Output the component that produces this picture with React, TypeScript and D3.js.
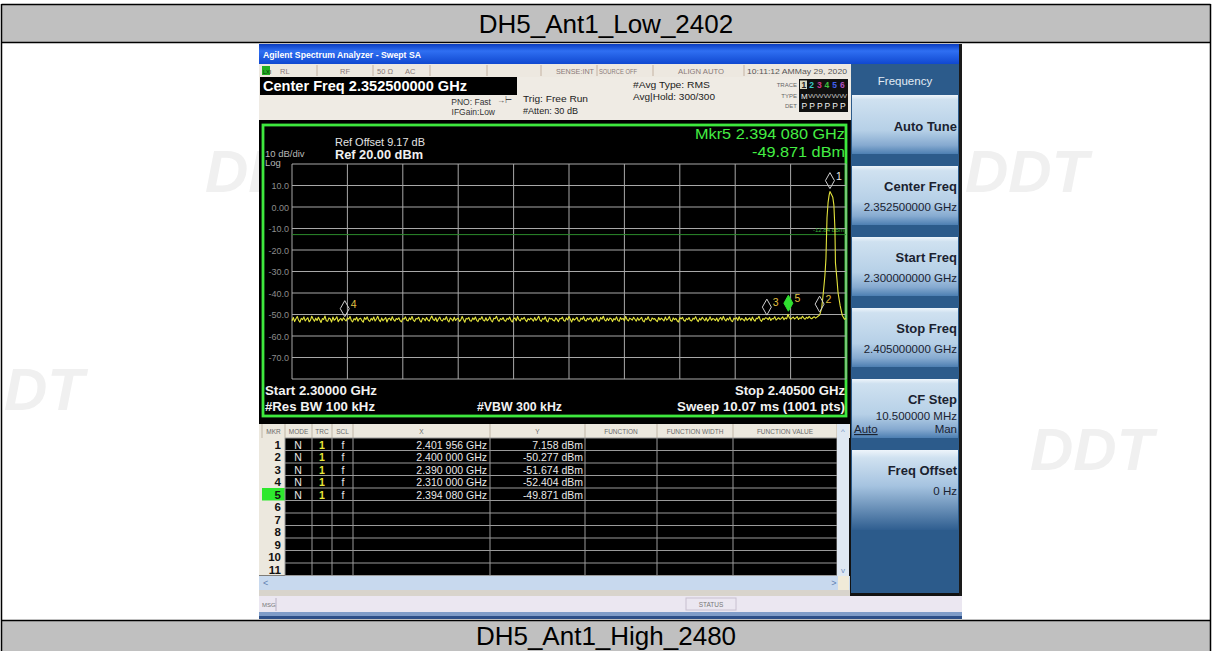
import * as d3 from 'd3';
import React from 'react';

const F = 'Liberation Sans, Arial, Helvetica, sans-serif';

// sweep settings
const startGHz = 2.3;
const stopGHz = 2.405;
const refLevel = 20;
const displayLine = -12.84;

const yTickValues = [10, 0, -10, -20, -30, -40, -50, -60, -70];
const yTickLabels = ['10.0', '0.00', '-10.0', '-20.0', '-30.0', '-40.0', '-50.0', '-60.0', '-70.0'];

// noise floor, read every 0.25 MHz from 2.30000 to 2.39975 GHz
const noiseStep = 0.00025;
const noiseLevels = [
  -52.9, -51.4, -53.3, -52.0, -50.9, -52.7, -53.6, -51.8, -52.4, -51.1, -53.0, -52.2, -51.5, -53.4, -52.6, -50.8, -52.1, -53.1, -51.7, -52.8,
  -51.3, -52.5, -53.7, -51.9, -52.3, -50.7, -52.9, -53.2, -51.6, -52.0, -53.5, -51.2, -52.7, -52.1, -51.0, -53.3, -52.4, -51.8, -52.9, -51.5,
  -52.4, -53.0, -51.6, -52.2, -50.9, -52.8, -53.4, -51.9, -52.5, -51.3, -53.1, -52.0, -51.7, -52.9, -53.6, -51.4, -52.3, -51.1, -52.7, -53.2,
  -51.8, -52.6, -51.2, -53.0, -52.1, -50.8, -52.5, -53.3, -51.6, -52.9, -52.2, -51.4, -53.5, -52.0, -51.7, -52.8, -51.0, -52.4, -53.1, -51.9,
  -52.3, -51.5, -52.9, -53.4, -51.8, -52.2, -51.1, -52.7, -53.0, -51.6, -52.4, -50.9, -52.6, -53.2, -51.9, -52.1, -51.3, -52.8, -53.5, -51.7,
  -52.0, -52.9, -51.4, -52.5, -53.1, -51.8, -50.7, -52.3, -52.8, -51.5, -53.3, -52.1, -51.2, -52.6, -53.0, -51.9, -52.4, -51.0, -52.7, -53.4,
  -51.6, -52.2, -53.0, -51.3, -52.8, -52.0, -51.7, -53.2, -52.5, -50.9, -52.3, -53.6, -51.8, -52.1, -51.4, -52.9, -53.1, -51.6, -52.4, -51.2,
  -52.7, -53.3, -51.9, -52.2, -51.0, -52.6, -53.0, -51.5, -52.9, -52.3, -51.1, -52.8, -53.4, -51.7, -52.0, -50.8, -52.5, -53.2, -51.9, -52.4,
  -51.4, -52.8, -53.1, -51.8, -52.3, -51.2, -52.7, -53.5, -52.0, -51.6, -52.9, -50.9, -52.4, -53.0, -51.7, -52.2, -51.3, -52.6, -53.3, -51.9,
  -52.5, -51.7, -52.2, -53.1, -51.4, -52.8, -52.0, -50.8, -52.6, -53.2, -51.8, -52.3, -51.1, -52.9, -53.4, -51.6, -52.1, -51.9, -52.7, -53.0,
  -51.5, -52.4, -53.3, -51.9, -52.0, -51.2, -52.8, -53.1, -51.6, -52.5, -50.9, -52.2, -53.5, -51.8, -52.6, -52.0, -51.3, -52.9, -53.2, -51.7,
  -52.3, -51.0, -52.7, -53.0, -51.8, -52.4, -51.5, -52.1, -53.4, -51.9, -52.6, -51.2, -52.9, -53.1, -51.4, -52.2, -50.8, -52.5, -53.0, -51.7,
  -52.8, -51.6, -52.0, -53.3, -51.9, -52.5, -51.1, -52.7, -53.2, -51.4, -52.3, -51.8, -52.9, -50.9, -52.4, -53.0, -51.7, -52.1, -52.6, -51.3,
  -52.2, -53.1, -51.5, -52.7, -52.0, -51.3, -52.9, -53.4, -51.8, -52.4, -51.0, -52.6, -53.0, -51.6, -52.2, -51.9, -52.8, -53.3, -51.4, -52.5,
  -51.7, -52.3, -53.0, -51.2, -52.6, -52.1, -50.9, -52.8, -53.2, -51.6, -52.4, -51.8, -52.9, -53.5, -51.5, -52.0, -51.3, -52.7, -53.1, -51.9,
  -52.4, -51.4, -52.8, -53.0, -51.7, -52.2, -51.0, -52.5, -53.3, -51.8, -52.6, -51.3, -52.1, -52.9, -51.5, -53.1, -52.3, -51.1, -52.7, -51.9,
  -52.1, -52.8, -51.6, -53.2, -52.0, -51.4, -52.6, -50.9, -52.3, -53.0, -51.8, -52.5, -51.2, -52.9, -53.3, -51.7, -52.2, -51.5, -52.8, -51.0,
  -52.6, -51.8, -52.3, -53.0, -51.4, -52.7, -52.1, -51.6, -52.9, -51.2, -52.4, -53.1, -51.7, -52.0, -50.8, -52.5, -53.2, -51.9, -52.3, -51.5,
  -51.7, -52.4, -51.3, -52.8, -51.9, -52.1, -51.0, -52.6, -52.0, -51.5, -52.3, -51.8, -51.1, -52.4, -51.6, -52.0, -49.9, -51.4, -52.2, -51.7,
  -51.2, -52.1, -51.6, -51.0, -52.3, -51.5, -51.9, -50.8, -51.7, -52.2, -51.3, -51.8, -50.9, -51.6, -52.0, -51.4, -51.1, -51.7, -51.2, -50.7,
];

// carrier around 2.402 GHz
const peakFreqs = [2.4, 2.4004, 2.4007, 2.401, 2.4012, 2.4014, 2.4016, 2.4018, 2.401956, 2.4022, 2.4025, 2.4027, 2.4029, 2.403, 2.4033, 2.4035, 2.4039, 2.4043, 2.4047, 2.405];
const peakLevels = [-50.3, -47.0, -40.0, -32.0, -24.0, -5.0, 2.0, 5.5, 7.16, 6.0, 4.5, 1.0, -10.0, -26.0, -34.0, -40.0, -46.0, -50.5, -52.2, -51.8];

const markerNums = ['1', '2', '3', '4', '5'];
const markerFreqs = [2.401956, 2.4, 2.39, 2.31, 2.39408];
const markerLevels = [7.158, -50.277, -51.674, -52.404, -49.871];
const markerXText = ['2.401 956 GHz', '2.400 000 GHz', '2.390 000 GHz', '2.310 000 GHz', '2.394 080 GHz'];
const markerYText = ['7.158 dBm', '-50.277 dBm', '-51.674 dBm', '-52.404 dBm', '-49.871 dBm'];

const tableHeads = ['MKR', 'MODE', 'TRC', 'SCL', 'X', 'Y', 'FUNCTION', 'FUNCTION WIDTH', 'FUNCTION VALUE'];
const colEdges = [262, 285, 312, 332, 353, 490, 585, 657, 733, 837];

const softKeyTitles = ['Auto Tune', 'Center Freq', 'Start Freq', 'Stop Freq', 'CF Step', 'Freq Offset'];
const softKeyValues = ['', '2.352500000 GHz', '2.300000000 GHz', '2.405000000 GHz', '10.500000 MHz', '0 Hz'];

const App = () => {
  const x = d3.scaleLinear().domain([startGHz, stopGHz]).range([292, 846]);
  const y = d3.scaleLinear().domain([refLevel - 100, refLevel]).range([379, 164]);

  const trace: [number, number][] = [
    ...noiseLevels.map((v, i) => [startGHz + i * noiseStep, v] as [number, number]),
    ...peakFreqs.map((f, i) => [f, peakLevels[i]] as [number, number]),
  ];
  const line = d3.line<[number, number]>().x((d) => x(d[0])).y((d) => y(d[1]));

  const vGrid = d3.range(11).map((i) => startGHz + (i * (stopGHz - startGHz)) / 10);
  const hGrid = d3.range(11).map((i) => refLevel - i * 10);

  const rowTop = (i: number) => 438 + i * 12.5;

  return (
    <svg width={1212} height={651} style={{ position: 'absolute', left: 0, top: 0 }} fontFamily={F}>
      <defs>
        <linearGradient id="tb" x1="0" y1="0" x2="0" y2="1">
          <stop offset="0%" stopColor="#0a3cc0" />
          <stop offset="35%" stopColor="#2f6ff2" />
          <stop offset="100%" stopColor="#1048d0" />
        </linearGradient>
        <linearGradient id="btn" x1="0" y1="0" x2="0" y2="1">
          <stop offset="0%" stopColor="#eef5fb" />
          <stop offset="8%" stopColor="#cfe1f0" />
          <stop offset="60%" stopColor="#b6d0e7" />
          <stop offset="85%" stopColor="#86aad0" />
          <stop offset="100%" stopColor="#4d7fb2" />
        </linearGradient>
        <linearGradient id="lastBtn" x1="0" y1="0" x2="0" y2="1">
          <stop offset="0%" stopColor="#eef5fb" />
          <stop offset="10%" stopColor="#cfe1f0" />
          <stop offset="45%" stopColor="#a5c3e0" />
          <stop offset="100%" stopColor="#2f5e90" />
        </linearGradient>
      </defs>

      <rect x={0} y={0} width={1212} height={651} fill="#ffffff" />

      {/* faint watermarks */}
      <g fill="#f0f0f0" fontWeight="bold" fontStyle="italic" fontSize={60}>
        <text x={205} y={192}>DDT</text>
        <text x={965} y={192}>DDT</text>
        <text x={4} y={410}>DT</text>
        <text x={1030} y={470}>DDT</text>
      </g>

      {/* outer table */}
      <rect x={2} y={4.5} width={1208} height={37.5} fill="#c0c0c0" />
      <rect x={2} y={621} width={1208} height={30} fill="#c0c0c0" />
      <g stroke="#000" strokeWidth={1.5}>
        <line x1={1.5} x2={1210.5} y1={4.5} y2={4.5} />
        <line x1={1.5} x2={1210.5} y1={42.5} y2={42.5} />
        <line x1={1.5} x2={1210.5} y1={620.5} y2={620.5} />
        <line x1={1.5} x2={1.5} y1={4} y2={651} />
        <line x1={1210.5} x2={1210.5} y1={4} y2={651} />
      </g>
      <text x={606} y={33} fontSize={26} textAnchor="middle" fill="#000">DH5_Ant1_Low_2402</text>
      <text x={606} y={645} fontSize={26} textAnchor="middle" fill="#000">DH5_Ant1_High_2480</text>

      {/* analyzer screenshot */}
      <rect x={259} y={44} width={703} height={575} fill="#121212" />
      <rect x={259} y={44} width={703} height={20} fill="url(#tb)" />
      <text x={263} y={58} fontSize={9} fontWeight="bold" fill="#ffffff" textLength={158} lengthAdjust="spacingAndGlyphs">
        Agilent Spectrum Analyzer - Swept SA
      </text>

      {/* status row */}
      <rect x={259} y={64} width={592} height={13} fill="#ede8e0" />
      <rect x={262} y={66} width={8} height={9} fill="#22b022" />
      <text x={263} y={73.5} fontSize={5.5} fill="#0a300a">LXI</text>
      <g stroke="#c4b2a2" strokeWidth={1}>
        {[317, 373, 430, 487, 541, 597, 653, 744].map((sx) => (
          <line key={sx} x1={sx} x2={sx} y1={65} y2={76} />
        ))}
      </g>
      <g fontSize={7.5} fill="#8a7a78">
        <text x={280} y={74}>RL</text>
        <text x={340} y={74}>RF</text>
        <text x={377} y={74}>50 Ω</text>
        <text x={405} y={74}>AC</text>
        <text x={556} y={74} textLength={38} lengthAdjust="spacingAndGlyphs">SENSE:INT</text>
        <text x={599} y={74} textLength={38} lengthAdjust="spacingAndGlyphs">SOURCE OFF</text>
        <text x={678} y={74} textLength={46} lengthAdjust="spacingAndGlyphs">ALIGN AUTO</text>
        <text x={747} y={74} textLength={100} lengthAdjust="spacingAndGlyphs" fill="#555">10:11:12 AMMay 29, 2020</text>
      </g>

      {/* header area */}
      <rect x={259} y={77} width={592} height={43} fill="#efebe4" />
      <rect x={260} y={77} width={257} height={18} fill="#000" />
      <text x={263} y={91} fontSize={14.5} fontWeight="bold" fill="#ffffff" textLength={204} lengthAdjust="spacingAndGlyphs">
        Center Freq 2.352500000 GHz
      </text>
      <g fontSize={8.5} fill="#333">
        <text x={491} y={105} textAnchor="end">PNO: Fast</text>
        <text x={495} y={115} textAnchor="end">IFGain:Low</text>
      </g>
      <text x={497} y={103} fontSize={8} fill="#444">→⊢</text>
      <g fontSize={9.5} fill="#222">
        <text x={523} y={102} textLength={65} lengthAdjust="spacingAndGlyphs">Trig: Free Run</text>
        <text x={523} y={114} textLength={55} lengthAdjust="spacingAndGlyphs">#Atten: 30 dB</text>
        <text x={633} y={88} textLength={77} lengthAdjust="spacingAndGlyphs">#Avg Type: RMS</text>
        <text x={633} y={100} textLength={82} lengthAdjust="spacingAndGlyphs">Avg|Hold: 300/300</text>
      </g>
      <g fontSize={6} fill="#666" textAnchor="end">
        <text x={797} y={87}>TRACE</text>
        <text x={797} y={98}>TYPE</text>
        <text x={797} y={108}>DET</text>
      </g>
      <rect x={799} y={79} width={49} height={33} fill="#101010" />
      <rect x={800} y={80.5} width={7} height={8.5} fill="#d8d8c0" />
      {['1', '2', '3', '4', '5', '6'].map((t, k) => (
        <text key={t} x={801.5 + k * 7.7} y={88} fontSize={8.5} fontWeight="bold"
          fill={['#202020', '#38c8c8', '#d03890', '#40c040', '#4060f0', '#b050c0'][k]}>{t}</text>
      ))}
      <text x={801} y={98.5} fontSize={8} fill="#f0f0f0">M</text>
      <text x={808} y={98} fontSize={6} fill="#b0b0b0" textLength={39} lengthAdjust="spacingAndGlyphs">WWWWW</text>
      {d3.range(6).map((k) => (
        <text key={k} x={801.5 + k * 7.7} y={109} fontSize={8.5} fill="#f0f0f0">P</text>
      ))}

      {/* plot area */}
      <rect x={259} y={120} width={591} height={304} fill="#000" />
      <rect x={263} y={125} width={583} height={291} fill="none" stroke="#3ee83e" strokeWidth={2.8} />

      <g stroke="#a8a8a8" strokeWidth={1}>
        {vGrid.map((f, i) => (
          <line key={`v${i}`} x1={x(f)} x2={x(f)} y1={y(refLevel)} y2={y(refLevel - 100)} />
        ))}
        {hGrid.map((v, i) => (
          <line key={`h${i}`} x1={x(startGHz)} x2={x(stopGHz)} y1={y(v)} y2={y(v)} />
        ))}
      </g>
      <line x1={x(startGHz)} x2={x(stopGHz)} y1={y(displayLine)} y2={y(displayLine)} stroke="#2c8a2c" strokeWidth={1} />
      <text x={844} y={y(displayLine) - 3} fontSize={6} fill="#3ab03a" textAnchor="end">-12.84 dBm</text>

      <g fontSize={9} fill="#8c8c8c" textAnchor="end">
        {yTickValues.map((v, i) => (
          <text key={v} x={289} y={y(v) + 3.5}>{yTickLabels[i]}</text>
        ))}
      </g>
      <text x={265} y={157} fontSize={9.5} fill="#b8b8b8">10 dB/div</text>
      <text x={265} y={165.5} fontSize={9.5} fill="#b8b8b8">Log</text>
      <text x={335} y={146} fontSize={10.5} fill="#e4e4e4" textLength={90} lengthAdjust="spacingAndGlyphs">Ref Offset 9.17 dB</text>
      <text x={335} y={159} fontSize={12.5} fontWeight="bold" fill="#f0f0f0" textLength={88} lengthAdjust="spacingAndGlyphs">Ref 20.00 dBm</text>

      <text x={845} y={139} fontSize={15} fill="#44ee44" textAnchor="end" textLength={150} lengthAdjust="spacingAndGlyphs">Mkr5 2.394 080 GHz</text>
      <text x={845} y={156.5} fontSize={15} fill="#44ee44" textAnchor="end" textLength={93} lengthAdjust="spacingAndGlyphs">-49.871 dBm</text>

      <path d={line(trace) ?? ''} fill="none" stroke="#e4e43c" strokeWidth={1.1} strokeLinejoin="round" />

      {markerNums.map((n, i) => {
        const mx = x(markerFreqs[i]);
        const yb = y(markerLevels[i]) - 3;
        const active = n === '5';
        return (
          <g key={n}>
            <path
              d={`M${mx},${yb} L${mx + 4.5},${yb - 8} L${mx},${yb - 16} L${mx - 4.5},${yb - 8} Z`}
              fill={active ? '#30e030' : 'none'}
              stroke={active ? '#30e030' : '#d0d0d0'}
              strokeWidth={1}
            />
            <text x={mx + 6} y={yb - 9} fontSize={10.5} fill={n === '1' ? '#e8e8e8' : '#e0c040'}>{n}</text>
          </g>
        );
      })}

      <g fontWeight="bold" fontSize={13} fill="#f2f2f2">
        <text x={265} y={394.5} textLength={112} lengthAdjust="spacingAndGlyphs">Start 2.30000 GHz</text>
        <text x={265} y={410.5} textLength={110} lengthAdjust="spacingAndGlyphs">#Res BW 100 kHz</text>
        <text x={477} y={410.5} textLength={85} lengthAdjust="spacingAndGlyphs">#VBW 300 kHz</text>
        <text x={845} y={394.5} textAnchor="end" textLength={110} lengthAdjust="spacingAndGlyphs">Stop 2.40500 GHz</text>
        <text x={845} y={410.5} textAnchor="end" textLength={168} lengthAdjust="spacingAndGlyphs">Sweep  10.07 ms (1001 pts)</text>
      </g>

      {/* marker table */}
      <rect x={259} y={424} width={591} height={14} fill="#ece8de" />
      <g stroke="#c0b6a6">
        {colEdges.map((c) => (
          <line key={c} x1={c} x2={c} y1={424} y2={438} />
        ))}
      </g>
      <g fontSize={6.5} fill="#6a6a6a" textAnchor="middle">
        {tableHeads.map((h, i) => (
          <text key={h} x={(colEdges[i] + colEdges[i + 1]) / 2} y={434}>{h}</text>
        ))}
      </g>
      <rect x={285} y={438} width={552} height={137.5} fill="#000" />
      <rect x={259} y={438} width={26} height={137.5} fill="#ece8de" />
      <rect x={262} y={rowTop(4)} width={23} height={12.5} fill="#2ee82e" />
      <g stroke="#9a9a9a" strokeWidth={1}>
        {d3.range(12).map((i) => (
          <line key={`r${i}`} x1={285} x2={837} y1={rowTop(i)} y2={rowTop(i)} />
        ))}
        {colEdges.slice(1).map((c) => (
          <line key={`c${c}`} x1={c} x2={c} y1={438} y2={575.5} />
        ))}
      </g>
      <g fontSize={11.5} fontWeight="bold" fill="#111" textAnchor="end">
        {d3.range(11).map((i) => (
          <text key={i} x={281} y={rowTop(i) + 10.5}>{i + 1}</text>
        ))}
      </g>
      {markerNums.map((n, i) => (
        <g key={`row${n}`} fontSize={10.5}>
          <text x={298} y={rowTop(i) + 10.5} fill="#e8e8e8" textAnchor="middle">N</text>
          <text x={322} y={rowTop(i) + 10.5} fill="#e8e838" fontWeight="bold" textAnchor="middle">1</text>
          <text x={343} y={rowTop(i) + 10.5} fill="#e8e8e8" textAnchor="middle">f</text>
          <text x={487} y={rowTop(i) + 10.5} fill="#e8e8e8" textAnchor="end">{markerXText[i]}</text>
          <text x={583} y={rowTop(i) + 10.5} fill="#e8e8e8" textAnchor="end">{markerYText[i]}</text>
        </g>
      ))}
      {/* scroll bars */}
      <rect x={837} y={424} width={12} height={152} fill="#dfe8f2" />
      <text x={843} y={434} fontSize={8} fill="#7090c0" textAnchor="middle">^</text>
      <text x={843} y={573} fontSize={8} fill="#7090c0" textAnchor="middle">v</text>
      <rect x={259} y={576} width={591} height={14} fill="#c8d9ee" />
      <text x={263} y={586} fontSize={9} fill="#6080b0">&lt;</text>
      <text x={834} y={586} fontSize={9} fill="#6080b0" textAnchor="middle">&gt;</text>
      <rect x={838} y={576} width={11} height={14} fill="#f0ead8" />
      <rect x={259} y={590} width={591} height={6} fill="#d8d4cc" />

      {/* soft key panel */}
      <rect x={851} y={64} width={108} height={529} fill="#2c5b8b" />
      <text x={905} y={85} fontSize={11.5} fill="#e2ebf4" textAnchor="middle">Frequency</text>
      {softKeyTitles.map((t, k) => {
        const top = 95 + 71 * k;
        const last = k === softKeyTitles.length - 1;
        return (
          <g key={t}>
            <rect x={852} y={top} width={106} height={last ? 80 : 59} fill={last ? 'url(#lastBtn)' : 'url(#btn)'} />
            <text x={957} y={top + (k === 0 ? 36 : 25)} fontSize={13} fontWeight="bold" fill="#1a2230" textAnchor="end">{t}</text>
            {k > 0 && (
              <text x={957} y={top + (k === 4 ? 41 : 45)} fontSize={11.5} fill="#1a2230" textAnchor="end">
                {softKeyValues[k]}
              </text>
            )}
            {k === 4 && (
              <g fontSize={11.5} fill="#1a2230">
                <text x={854} y={top + 54} textDecoration="underline">Auto</text>
                <text x={957} y={top + 54} textAnchor="end">Man</text>
              </g>
            )}
          </g>
        );
      })}
      <rect x={959} y={44} width={3} height={552} fill="#1a1a1a" />

      {/* message bar */}
      <rect x={259} y={596} width={703} height={16} fill="#ebe7f1" />
      <line x1={276} x2={276} y1={598} y2={611} stroke="#b8b0c4" />
      <text x={262} y={607} fontSize={6} fill="#777">MSG</text>
      <rect x={686} y={598} width={50} height={12} fill="none" stroke="#c8c0d0" />
      <text x={711} y={607} fontSize={6.5} fill="#777" textAnchor="middle">STATUS</text>
      <rect x={259} y={612} width={703} height={4} fill="#7f9cc8" />
      <rect x={259} y={616} width={703} height={3} fill="#2d4f88" />
    </svg>
  );
};

export default App;
